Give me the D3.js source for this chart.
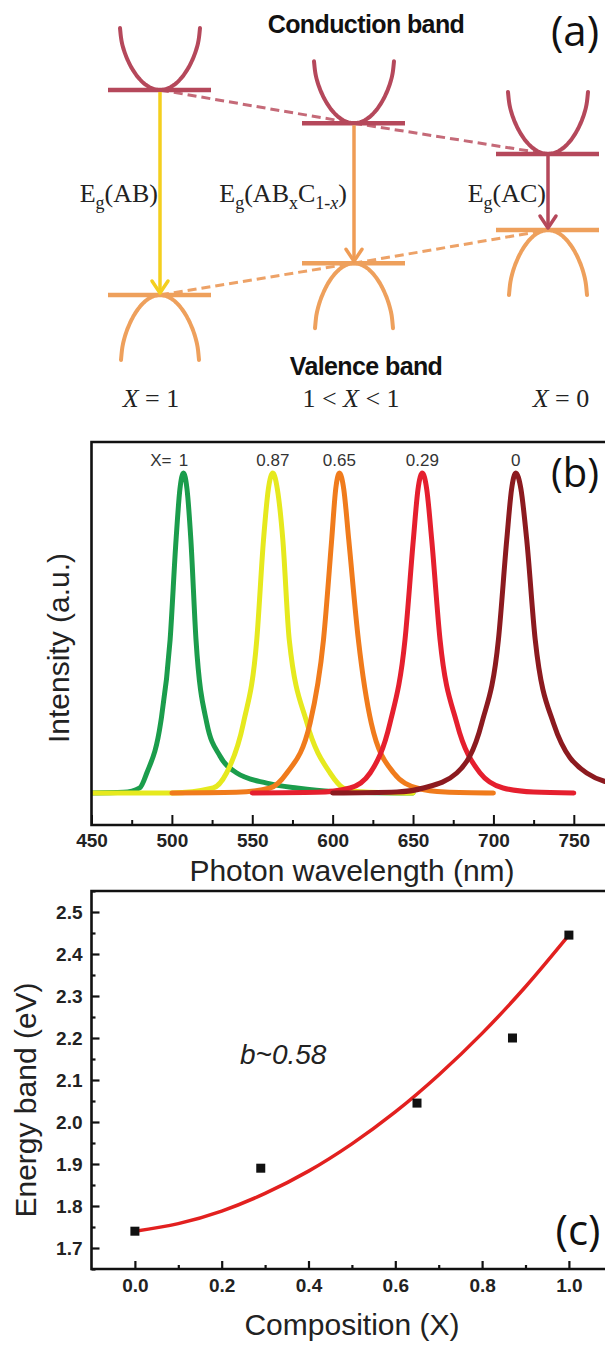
<!DOCTYPE html>
<html><head><meta charset="utf-8">
<script src="https://cdn.jsdelivr.net/npm/d3@7"></script>
<style>body{margin:0;background:#fff} svg{display:block}</style>
</head><body>
<script>
// ---------- Panel (a): band diagram ----------
const compositions = ["X = 1", "1 < X < 1", "X = 0"];
const cbLevels = [1.0, 0.838, 0.688];   // relative conduction-band minima
const vbLevels = [0.0, 0.155, 0.317];   // relative valence-band maxima
const gapColors = ["#f4cf1e", "#ef9c55", "#b5485b"];

// ---------- Panel (b): PL spectra ----------
const peakLabels = ["1", "0.87", "0.65", "0.29", "0"];
const specColors = ["#1b9d4c", "#e6e91e", "#f07b1c", "#e51f2e", "#8c1a1f"];
const specGreen  = [[450,0],[470,0.002],[480,0.016],[484.4,0.0625],[493,0.219],[498.9,0.479],[502.6,0.792],[505,0.95],[507.2,1],[509.4,0.95],[511.8,0.792],[515,0.479],[521.7,0.219],[530,0.115],[540.4,0.0625],[559,0.031],[577.7,0.0156],[600,0.005],[650,0]];
const specYellow = [[450,0],[500,0],[525.6,0.0156],[534,0.0625],[544.5,0.219],[552.8,0.479],[557,0.792],[560,0.95],[562.8,1],[565.6,0.95],[569,0.792],[573,0.479],[584,0.219],[598.4,0.0625],[606.7,0.0156],[620,0.003],[650,0]];
const specOrange = [[500,0],[540,0.002],[561,0.0156],[571.5,0.0625],[586,0.219],[594.3,0.479],[599.4,0.792],[601.9,0.95],[604.2,1],[606.9,0.95],[610,0.792],[616,0.479],[624,0.219],[638,0.0625],[652.3,0.0156],[670,0.003],[700,0]];
const specRed    = [[550,0],[590,0.002],[610.8,0.0156],[623.3,0.0625],[635.7,0.219],[645,0.479],[650.2,0.792],[653.1,0.95],[655.8,1],[658.5,0.95],[661.6,0.792],[666.8,0.479],[677.2,0.219],[691.7,0.0625],[706,0.0156],[725,0.003],[750,0]];
const specDark   = [[600,0],[640,0.003],[656.5,0.0156],[677.2,0.0625],[692.8,0.219],[703.1,0.479],[708.3,0.792],[711.3,0.95],[713.9,1],[717.1,0.95],[720.7,0.792],[726,0.479],[737.3,0.219],[758,0.0625],[780,0.025]];
const spectra = [specGreen, specYellow, specOrange, specRed, specDark];
const wlTicks = [450, 500, 550, 600, 650, 700, 750];
const wlMinor = [475, 525, 575, 625, 675, 725, 775];

// ---------- Panel (c): band gap vs composition ----------
const compX = [0, 0.29, 0.65, 0.87, 1.0];
const bandE = [1.74, 1.89, 2.045, 2.20, 2.445];
const fitX = [0, 0.1, 0.2, 0.3, 0.4, 0.5, 0.6, 0.7, 0.8, 0.9, 1.0];
const fitE = [1.74, 1.758, 1.788, 1.830, 1.883, 1.948, 2.024, 2.112, 2.211, 2.322, 2.445];
const eTicks = [1.7, 1.8, 1.9, 2.0, 2.1, 2.2, 2.3, 2.4, 2.5];
const eMinor = [1.65, 1.75, 1.85, 1.95, 2.05, 2.15, 2.25, 2.35, 2.45, 2.55];
const cTicks = [0, 0.2, 0.4, 0.6, 0.8, 1.0];
const cMinor = [0.1, 0.3, 0.5, 0.7, 0.9];

const W = 605, H = 1360;
const svg = d3.select("body").append("svg").attr("width", W).attr("height", H);
const SANS = "'Liberation Sans', Arial, sans-serif";
const SERIF = "'Liberation Serif', 'Times New Roman', serif";
const LABEL = "'Open Sans', 'DejaVu Sans', sans-serif";

// =============== Panel (a) ===============
(function(){
  const g = svg.append("g");
  const xA = d3.scalePoint().domain(compositions).range([160, 548]);
  const yA = d3.scaleLinear().domain([0, 1]).range([295, 90]);
  const cbCol = "#b5485b", vbCol = "#eea05c";
  const items = compositions.map((c, i) => ({c, i, x: xA(c), yc: yA(cbLevels[i]), yv: yA(vbLevels[i])}));

  const ln = d3.line().x(d => d.x).y(d => d.y);
  const lnS = d3.line().x(d => d.x).y(d => d.y).curve(d3.curveBasis);
  g.append("path").attr("d", ln(items.map(d => ({x: d.x, y: d.yc}))))
    .attr("fill", "none").attr("stroke", "#c56a78").attr("stroke-width", 3).attr("stroke-dasharray", "9,5");
  g.append("path").attr("d", ln(items.map(d => ({x: d.x, y: d.yv}))))
    .attr("fill", "none").attr("stroke", "#eda267").attr("stroke-width", 3).attr("stroke-dasharray", "9,5");

  // band shape: blend of an elliptical U and a parabola
  const us = d3.range(-1, 1.0001, 0.025);
  const depth = u => 0.7 * (1 - Math.sqrt(Math.max(0, 1 - u * u))) + 0.3 * u * u;
  items.forEach(d => {
    g.append("path").attr("d", lnS(us.map(u => ({x: d.x + 40 * u, y: d.yc - 62 * depth(u)}))))
      .attr("fill", "none").attr("stroke", cbCol).attr("stroke-width", 4).attr("stroke-linecap", "round");
    g.append("line").attr("x1", d.x - 52).attr("x2", d.x + 51).attr("y1", d.yc).attr("y2", d.yc)
      .attr("stroke", cbCol).attr("stroke-width", 4.5);
    g.append("path").attr("d", lnS(us.map(u => ({x: d.x + 39 * u, y: d.yv + 65 * depth(u)}))))
      .attr("fill", "none").attr("stroke", vbCol).attr("stroke-width", 4).attr("stroke-linecap", "round");
    g.append("line").attr("x1", d.x - 52).attr("x2", d.x + 51).attr("y1", d.yv).attr("y2", d.yv)
      .attr("stroke", vbCol).attr("stroke-width", 4.5);
    const col = gapColors[d.i];
    g.append("line").attr("x1", d.x).attr("x2", d.x).attr("y1", d.yc + 2).attr("y2", d.yv - 2)
      .attr("stroke", col).attr("stroke-width", 3.5);
    g.append("path").attr("d", ln([{x: d.x - 8, y: d.yv - 14}, {x: d.x, y: d.yv - 2}, {x: d.x + 8, y: d.yv - 14}]))
      .attr("fill", "none").attr("stroke", col).attr("stroke-width", 3.5).attr("stroke-linecap", "round").attr("stroke-linejoin", "round");
  });

  const egY = 202;
  const eg = (x, parts) => {
    const t = g.append("text").attr("x", x).attr("y", egY).attr("text-anchor", "end")
      .attr("font-family", SERIF).attr("font-size", 26).attr("fill", "#222");
    parts.forEach(p => {
      const s = t.append("tspan").text(p.t);
      if (p.sub) s.attr("font-size", 18);
      if (p.dy) s.attr("dy", p.dy);
      if (p.it) s.attr("font-style", "italic");
    });
  };
  eg(items[0].x - 2, [{t: "E"}, {t: "g", sub: 1, dy: 7}, {t: "(AB)", dy: -7}]);
  eg(items[1].x - 7, [{t: "E"}, {t: "g", sub: 1, dy: 7}, {t: "(AB", dy: -7}, {t: "x", sub: 1, dy: 7}, {t: "C", dy: -7}, {t: "1-", sub: 1, dy: 7}, {t: "x", sub: 1, it: 1}, {t: ")", dy: -7}]);
  eg(items[2].x - 2, [{t: "E"}, {t: "g", sub: 1, dy: 7}, {t: "(AC)", dy: -7}]);

  g.append("text").attr("x", 366).attr("y", 33).attr("text-anchor", "middle")
    .attr("font-family", SANS).attr("font-weight", "bold").attr("font-size", 25).attr("letter-spacing", -0.6)
    .attr("fill", "#111").text("Conduction band");
  g.append("text").attr("x", 366).attr("y", 375).attr("text-anchor", "middle")
    .attr("font-family", SANS).attr("font-weight", "bold").attr("font-size", 25).attr("letter-spacing", -0.6)
    .attr("fill", "#111").text("Valence band");

  const offs = [-9, -3, 13];
  items.forEach(d => {
    const t = g.append("text").attr("x", d.x + offs[d.i]).attr("y", 407).attr("text-anchor", "middle")
      .attr("font-family", SERIF).attr("font-size", 26).attr("fill", "#222");
    d.c.split(/(X)/).forEach(p => { if (p) t.append("tspan").attr("font-style", p === "X" ? "italic" : "normal").text(p); });
  });

  g.append("text").attr("x", 575).attr("y", 46).attr("text-anchor", "middle")
    .attr("font-family", LABEL).attr("font-size", 42).attr("fill", "#111").text("(a)");
})();

// =============== Panel (b) ===============
(function(){
  const g = svg.append("g");
  const L = 91.5, T = 442, B = 825;
  const xB = d3.scaleLinear().domain([450, 780]).range([L, L + 330 * 1.6077]);
  const yB = d3.scaleLinear().domain([-0.1, 1.097]).range([B, T]);

  svg.append("clipPath").attr("id", "clipB").append("rect")
    .attr("x", L).attr("y", T).attr("width", W - L).attr("height", B - T);

  const line = d3.line().x(d => xB(d[0])).y(d => yB(d[1])).curve(d3.curveMonotoneX);
  const pg = g.append("g").attr("clip-path", "url(#clipB)");
  spectra.forEach((s, i) => {
    pg.append("path").attr("d", line(s)).attr("fill", "none").attr("stroke", specColors[i])
      .attr("stroke-width", 5).attr("stroke-linecap", "round").attr("stroke-linejoin", "round");
  });

  const ax = g.append("g").attr("transform", `translate(0,${B})`)
    .call(d3.axisBottom(xB).tickValues(wlTicks).tickSizeInner(-10).tickSizeOuter(0).tickPadding(9).tickFormat(d3.format("d")));
  ax.select(".domain").remove();
  ax.selectAll("line").attr("stroke", "#111").attr("stroke-width", 2);
  ax.selectAll("text").attr("font-family", SANS).attr("font-weight", "bold").attr("font-size", 19).attr("fill", "#222");
  const axm = g.append("g").attr("transform", `translate(0,${B})`)
    .call(d3.axisBottom(xB).tickValues(wlMinor).tickSizeInner(-5).tickSizeOuter(0).tickFormat(""));
  axm.select(".domain").remove();
  axm.selectAll("line").attr("stroke", "#111").attr("stroke-width", 2);

  g.append("path").attr("d", `M${W + 5},${T}H${L}V${B}H${W + 5}`).attr("fill", "none")
    .attr("stroke", "#111").attr("stroke-width", 2.6);

  const peakWl = spectra.map(s => s.reduce((a, b) => b[1] > a[1] ? b : a)[0]);
  peakLabels.forEach((p, i) => {
    g.append("text").attr("x", xB(peakWl[i])).attr("y", 466).attr("text-anchor", "middle")
      .attr("font-family", SANS).attr("font-size", 17).attr("fill", "#333").text(p);
  });
  g.append("text").attr("x", xB(peakWl[0]) - 12).attr("y", 466).attr("text-anchor", "end")
    .attr("font-family", SANS).attr("font-size", 17).attr("fill", "#333").text("X=");

  g.append("text").attr("x", 575).attr("y", 487).attr("text-anchor", "middle")
    .attr("font-family", LABEL).attr("font-size", 40).attr("fill", "#111").text("(b)");

  g.append("text").attr("x", 352).attr("y", 881).attr("text-anchor", "middle")
    .attr("font-family", SANS).attr("font-size", 30).attr("fill", "#222").text("Photon wavelength (nm)");
  g.append("text").attr("transform", `translate(69,648) rotate(-90)`).attr("text-anchor", "middle")
    .attr("font-family", SANS).attr("font-size", 30).attr("fill", "#222").text("Intensity (a.u.)");
})();

// =============== Panel (c) ===============
(function(){
  const g = svg.append("g");
  const L = 91.5, T = 891, B = 1269;
  const xC = d3.scaleLinear().domain([-0.1, 1.1]).range([L, L + 1.2 * 434]);
  const yC = d3.scaleLinear().domain([1.65, 2.55]).range([B, T]);

  const line = d3.line().x((d, i) => xC(fitX[i])).y(d => yC(d)).curve(d3.curveMonotoneX);
  g.append("path").attr("d", line(fitE)).attr("fill", "none").attr("stroke", "#e2201f").attr("stroke-width", 3.5);

  g.selectAll("rect.pt").data(compX).enter().append("rect").attr("class", "pt")
    .attr("x", d => xC(d) - 4.5).attr("y", (d, i) => yC(bandE[i]) - 4.5)
    .attr("width", 9).attr("height", 9).attr("fill", "#111");

  const ax = g.append("g").attr("transform", `translate(0,${B})`)
    .call(d3.axisBottom(xC).tickValues(cTicks).tickSizeInner(-8).tickSizeOuter(0).tickPadding(10).tickFormat(d3.format(".1f")));
  ax.select(".domain").remove();
  const axm = g.append("g").attr("transform", `translate(0,${B})`)
    .call(d3.axisBottom(xC).tickValues(cMinor).tickSizeInner(-4).tickSizeOuter(0).tickFormat(""));
  axm.select(".domain").remove();
  const ay = g.append("g").attr("transform", `translate(${L},0)`)
    .call(d3.axisLeft(yC).tickValues(eTicks).tickSizeInner(-8).tickSizeOuter(0).tickPadding(9).tickFormat(d3.format(".1f")));
  ay.select(".domain").remove();
  const aym = g.append("g").attr("transform", `translate(${L},0)`)
    .call(d3.axisLeft(yC).tickValues(eMinor).tickSizeInner(-4).tickSizeOuter(0).tickFormat(""));
  aym.select(".domain").remove();
  [ax, axm, ay, aym].forEach(a => a.selectAll("line").attr("stroke", "#111").attr("stroke-width", 2.2));
  [ax, ay].forEach(a => a.selectAll("text").attr("font-family", SANS).attr("font-weight", "bold").attr("font-size", 19).attr("fill", "#222"));

  g.append("path").attr("d", `M${W + 5},${T}H${L}V${B}H${W + 5}`).attr("fill", "none")
    .attr("stroke", "#111").attr("stroke-width", 2.6);

  g.append("text").attr("x", 240).attr("y", 1064).attr("font-family", SANS).attr("font-style", "italic")
    .attr("font-size", 28).attr("fill", "#222").text("b~0.58");
  g.append("text").attr("x", 578).attr("y", 1245).attr("text-anchor", "middle")
    .attr("font-family", LABEL).attr("font-size", 42).attr("fill", "#111").text("(c)");

  g.append("text").attr("x", 352).attr("y", 1335).attr("text-anchor", "middle")
    .attr("font-family", SANS).attr("font-size", 30).attr("fill", "#222").text("Composition (X)");
  g.append("text").attr("transform", `translate(36,1100) rotate(-90)`).attr("text-anchor", "middle")
    .attr("font-family", SANS).attr("font-size", 30).attr("fill", "#222").text("Energy band (eV)");
})();
</script>
</body></html>
